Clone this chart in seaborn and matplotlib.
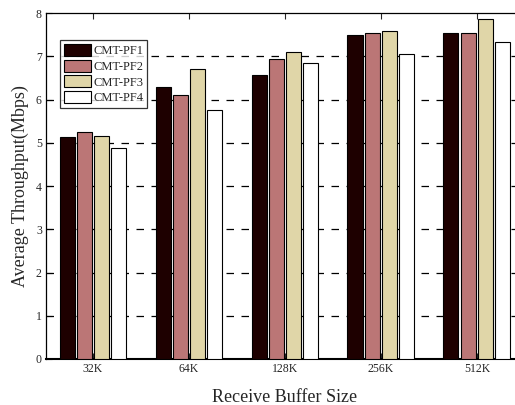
import pandas as pd
import numpy as np
import seaborn as sns
import matplotlib.pyplot as plt

# dados
buffers = ['32K', '64K', '128K', '256K', '512K']
series = ['CMT-PF1', 'CMT-PF2', 'CMT-PF3', 'CMT-PF4']
pf1 = [5.13, 6.28, 6.58, 7.49, 7.54]
pf2 = [5.25, 6.10, 6.93, 7.53, 7.55]
pf3 = [5.15, 6.70, 7.09, 7.59, 7.86]
pf4 = [4.88, 5.75, 6.84, 7.05, 7.34]
cores = ['#1e0000', '#bb7676', '#e0d6a8', '#ffffff']

df = pd.DataFrame({'buffer': buffers * 4,
                   'serie': np.repeat(series, len(buffers)),
                   'valor': pf1 + pf2 + pf3 + pf4})

sns.set_style('white')
plt.rcParams['font.family'] = ['Liberation Serif', 'DejaVu Serif']

fig = plt.figure(figsize=(5.15, 4.05), dpi=100)
ax = fig.add_axes([0.0893, 0.1136, 0.928, 0.854])

sns.barplot(data=df, x='buffer', y='valor', hue='serie', palette=cores,
            width=0.72, gap=0.13, edgecolor='black', linewidth=0.8,
            saturation=1, ax=ax, zorder=3)

ax.set_ylim(0, 8)
ax.set_xlim(-0.49, 4.49)
ax.set_yticks(range(0, 9))
for y in range(1, 8):
    ax.axhline(y, color='black', linestyle=(0, (6, 6)), linewidth=0.9, zorder=1)

ax.tick_params(direction='in', length=4, width=0.8, labelsize=8.5,
               top=True, right=True, bottom=True, left=True, pad=3)
for s in ax.spines.values():
    s.set_color('black')
    s.set_linewidth(0.9)
ax.spines['bottom'].set_linewidth(1.5)

ax.set_xlabel('Receive Buffer Size', fontsize=13, labelpad=10)
ax.set_ylabel('Average Throughput(Mbps)', fontsize=13, labelpad=5)

leg = ax.legend(loc='upper left', bbox_to_anchor=(0.029, 0.922), fontsize=9,
                frameon=True, fancybox=False, edgecolor='black',
                handlelength=2.2, handleheight=1.1, handletextpad=0.2,
                labelspacing=0.2, borderpad=0.3, borderaxespad=0)
leg.get_frame().set_linewidth(0.9)
leg.set_zorder(5)

fig.savefig('out.png', dpi=100)
